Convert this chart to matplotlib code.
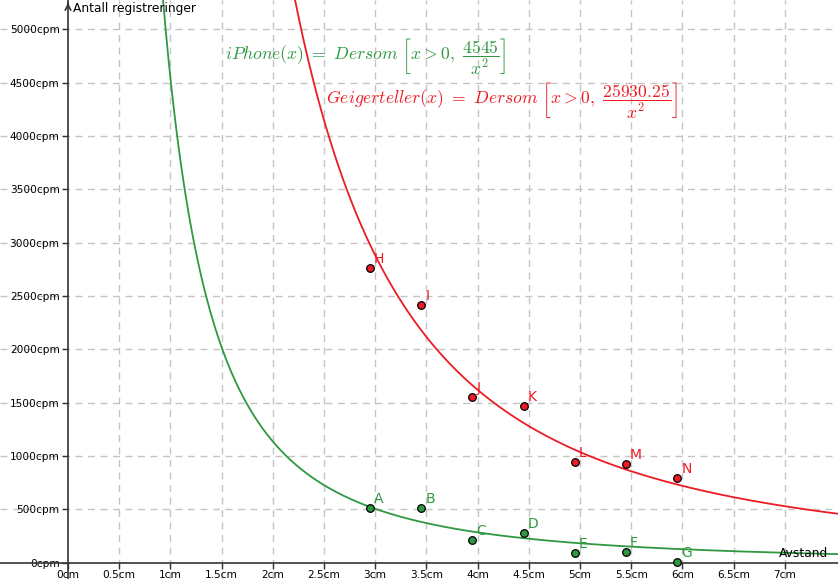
import numpy as np
import matplotlib
matplotlib.use("Agg")
import matplotlib.pyplot as plt

dist = [2.95, 3.45, 3.95, 4.45, 4.95, 5.45, 5.95]
iphone_names = ["A", "B", "C", "D", "E", "F", "G"]
iphone_cpm = [515, 510, 213, 276, 94, 103, 3]
geiger_names = ["H", "I", "J", "K", "L", "M", "N"]
geiger_cpm = [2765, 2415, 1556, 1472, 947, 925, 791]

iphone_k = 4545
geiger_k = 25930.25

xticks = np.arange(0, 7.5, 0.5)
yticks = np.arange(0, 5001, 500)

GREEN = "#2e9940"
RED = "#ec1c24"
plt.rcParams["mathtext.fontset"] = "cm"

fig = plt.figure(figsize=(8.38, 5.79), dpi=100)
ax = fig.add_axes([0, 0, 1, 1])
xmin, xmax = -0.664, 7.52
ymin, ymax = -153, 5274
ax.set_xlim(xmin, xmax)
ax.set_ylim(ymin, ymax)

# grid
for x in xticks[1:]:
    ax.axvline(x, color="#c4c4c4", lw=1, ls=(0, (5, 4)), zorder=0)
for y in yticks[1:]:
    ax.axhline(y, color="#c4c4c4", lw=1, ls=(0, (5, 4)), zorder=0)

# axes through origin
for s in ["top", "right"]:
    ax.spines[s].set_visible(False)
ax.spines["left"].set_position(("data", 0))
ax.spines["bottom"].set_position(("data", 0))
for s in ["left", "bottom"]:
    ax.spines[s].set_color("#333333")
    ax.spines[s].set_linewidth(1.2)
ax.set_xticks(xticks)
ax.set_xticklabels([("%g" % v) + "cm" for v in xticks])
ax.set_yticks(yticks)
ax.set_yticklabels([("%g" % v) + "cpm" for v in yticks])
ax.tick_params(direction="out", length=4, width=1, color="#333333",
               labelsize=7.6)
ax.tick_params(axis="x", pad=1)
ax.tick_params(axis="y", pad=2)
ax.annotate("", xy=(0, ymax), xytext=(0, ymax - 60),
            arrowprops=dict(arrowstyle="->", color="#333333", lw=1.2))

ax.text(0.05, 5190, "Antall registreringer", fontsize=8.8, va="center")
ax.text(7.42, 90, "Avstand", fontsize=8.8, ha="right", va="center")

# curves
xg = np.linspace(np.sqrt(iphone_k / ymax), xmax, 500)
ax.plot(xg, iphone_k / xg**2, color=GREEN, lw=1.3, zorder=2)
xr = np.linspace(np.sqrt(geiger_k / ymax), xmax, 500)
ax.plot(xr, geiger_k / xr**2, color=RED, lw=1.3, zorder=2)

# points
ax.scatter(dist, iphone_cpm, s=30, color=GREEN, edgecolor="black",
           linewidth=0.9, zorder=4, clip_on=False)
ax.scatter(dist, geiger_cpm, s=30, color=RED, edgecolor="black",
           linewidth=0.9, zorder=4)
for n, x, y in zip(iphone_names, dist, iphone_cpm):
    ax.annotate(n, (x, y), xytext=(4, 5), textcoords="offset pixels",
                color=GREEN, fontsize=10)
for n, x, y in zip(geiger_names, dist, geiger_cpm):
    ax.annotate(n, (x, y), xytext=(4, 5), textcoords="offset pixels",
                color=RED, fontsize=10)

# formulas
ax.text(1.535, 4745, r"$iPhone(x)\ =\ Dersom\ \left[x > 0,\ \dfrac{4545}{x^2}\right]$",
        color=GREEN, fontsize=12.7, va="center")
ax.text(2.52, 4340, r"$Geigerteller(x)\ =\ Dersom\ \left[x > 0,\ \dfrac{25930.25}{x^2}\right]$",
        color=RED, fontsize=12.7, va="center")

fig.savefig("out.png", dpi=100)
